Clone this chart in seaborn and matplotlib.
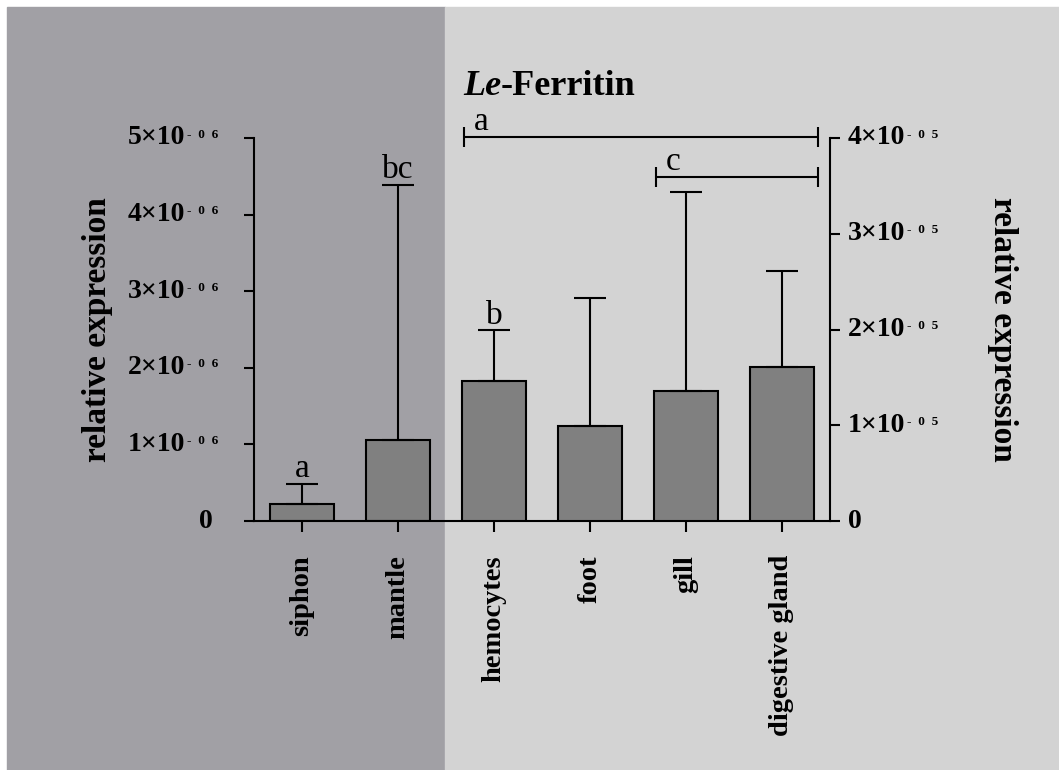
import matplotlib
matplotlib.use("Agg")
import matplotlib.pyplot as plt
import seaborn as sns
import numpy as np
import pandas as pd
from matplotlib.patches import Rectangle
from matplotlib.transforms import blended_transform_factory

# data
categories = ["siphon", "mantle", "hemocytes", "foot", "gill", "digestive gland"]

left_tissues = ["siphon", "mantle"]
left_mean = [0.22e-6, 1.06e-6]
left_sd = [0.26e-6, 3.33e-6]

right_tissues = ["hemocytes", "foot", "gill", "digestive gland"]
right_mean = [1.46e-5, 0.99e-5, 1.36e-5, 1.61e-5]
right_sd = [0.53e-5, 1.34e-5, 2.08e-5, 1.00e-5]

left_ticks = [0, 1e-6, 2e-6, 3e-6, 4e-6, 5e-6]
right_ticks = [0, 1e-5, 2e-5, 3e-5, 4e-5]

bar_letters = {"siphon": "a", "mantle": "bc", "hemocytes": "b"}
# letter, first tissue, last tissue, height on the right axis
brackets = [("a", "hemocytes", "digestive gland", 4.01e-5),
            ("c", "gill", "digestive gland", 3.59e-5)]

sns.set_style("ticks")
plt.rcParams["font.family"] = ["Liberation Serif", "DejaVu Serif"]
plt.rcParams["text.color"] = "black"
plt.rcParams["axes.labelcolor"] = "black"
plt.rcParams["xtick.color"] = "black"
plt.rcParams["ytick.color"] = "black"

W, H = 1059, 770
fig = plt.figure(figsize=(W / 100, H / 100), dpi=100)
fig.patch.set_facecolor("white")

# two-tone background
fig.add_artist(Rectangle((7 / W, 0), (445 - 7) / W, (H - 7) / H,
                         transform=fig.transFigure, color="#a1a0a5", zorder=-2))
fig.add_artist(Rectangle((445 / W, 0), (W - 445) / W, (H - 7) / H,
                         transform=fig.transFigure, color="#d3d3d3", zorder=-2))

ax = fig.add_axes([254 / W, (H - 521) / H, 576 / W, 383 / H])
ax.patch.set_visible(False)
ax2 = ax.twinx()
ax2.patch.set_visible(False)

bar_kw = dict(order=categories, color="#808080", saturation=1, edgecolor="black",
              linewidth=1.5, width=0.667, errorbar=None)
sns.barplot(data=pd.DataFrame({"tissue": left_tissues, "expr": left_mean}),
            x="tissue", y="expr", ax=ax, **bar_kw)
sns.barplot(data=pd.DataFrame({"tissue": right_tissues, "expr": right_mean}),
            x="tissue", y="expr", ax=ax2, **bar_kw)

err_kw = dict(fmt="none", ecolor="black", elinewidth=1.5, capsize=11.5, capthick=1.5)
lx = [categories.index(t) for t in left_tissues]
rx = [categories.index(t) for t in right_tissues]
ax.errorbar(lx, left_mean, yerr=[np.zeros(len(lx)), left_sd], **err_kw)
ax2.errorbar(rx, right_mean, yerr=[np.zeros(len(rx)), right_sd], **err_kw)

ax.set_xlim(-0.5, 5.5)
ax.set_ylim(0, 5e-6)
ax2.set_ylim(0, 4e-5)
for a in (ax, ax2):
    a.set_xlabel("")
    a.set_ylabel("")

# spines
for s in ("top", "right"):
    ax.spines[s].set_visible(False)
for s in ("top", "left", "bottom"):
    ax2.spines[s].set_visible(False)
for sp in (ax.spines["left"], ax.spines["bottom"], ax2.spines["right"]):
    sp.set_linewidth(1.5)
    sp.set_color("black")

ax.set_xticks(range(len(categories)), categories, rotation=90,
              fontsize=20.5, fontweight="bold", color="black")
ax.tick_params(axis="x", length=8, width=1.5, pad=16.5, color="black")
ax.set_yticks(left_ticks, [""] * len(left_ticks))
ax.tick_params(axis="y", length=7.5, width=1.5, color="black")
ax2.set_yticks(right_ticks, [""] * len(right_ticks))
ax2.tick_params(axis="y", length=7.5, width=1.5, color="black")

# y tick labels written as k×10 with a small superscript
lab_kw = dict(fontsize=20, fontweight="bold", va="center", color="black")
sup_kw = dict(fontsize=9.5, fontweight="bold", ha="left", va="baseline", color="black",
              textcoords="offset points", xytext=(1.5, 0), annotation_clip=False)
tl = blended_transform_factory(ax.transAxes, ax.transData)
for v in left_ticks:
    if v == 0:
        ax.text(-0.0712, v, "0", transform=tl, ha="right", **lab_kw)
    else:
        base = ax.text(-0.1198, v, f"{round(v / 1e-6)}×10", transform=tl, ha="right", **lab_kw)
        ax.annotate("-  0  6", xy=(1, 0.52), xycoords=base, **sup_kw)
tr = blended_transform_factory(ax2.transAxes, ax2.transData)
for v in right_ticks:
    if v == 0:
        ax2.text(1.031, v, "0", transform=tr, ha="left", **lab_kw)
    else:
        base = ax2.text(1.031, v, f"{round(v / 1e-5)}×10", transform=tr, ha="left", **lab_kw)
        ax2.annotate("-  0  5", xy=(1, 0.52), xycoords=base, **sup_kw)

ax.text(-0.271, 0.5, "relative expression", rotation=90, ha="center", va="center",
        transform=ax.transAxes, fontsize=24, fontweight="bold", color="black")
ax2.text(1.299, 0.5, "relative expression", rotation=270, ha="center", va="center",
         transform=ax2.transAxes, fontsize=24, fontweight="bold", color="black")

# significance letters over bars
for t, letter in bar_letters.items():
    if t in left_tissues:
        i = left_tissues.index(t)
        ax.annotate(letter, (categories.index(t), left_mean[i] + left_sd[i]),
                    xytext=(0, 5), textcoords="offset points", ha="center",
                    va="baseline", fontsize=24, color="black")
    else:
        i = right_tissues.index(t)
        ax2.annotate(letter, (categories.index(t), right_mean[i] + right_sd[i]),
                     xytext=(0, 5), textcoords="offset points", ha="center",
                     va="baseline", fontsize=24, color="black")

# group brackets
for letter, t0, t1, y in brackets:
    x0 = categories.index(t0) - 0.31
    x1 = categories.index(t1) + 0.375
    ax2.plot([x0, x1], [y, y], color="black", lw=1.5, marker="|", ms=14, mew=1.5,
             clip_on=False)
    ax2.annotate(letter, (x0, y), xytext=(7, 5), textcoords="offset points",
                 ha="left", va="baseline", fontsize=24, color="black",
                 annotation_clip=False)

# title: italic gene prefix + bold name
t_le = fig.text(463 / W, (H - 95) / H, "Le", fontsize=26, fontweight="bold",
                fontstyle="italic", ha="left", va="baseline", color="black")
ax.annotate("-Ferritin", xy=(1, 0), xycoords=t_le, ha="left", va="bottom",
            fontsize=26, fontweight="bold", color="black", annotation_clip=False)

plt.savefig("out.png", dpi=100, facecolor=fig.get_facecolor())
plt.close()
